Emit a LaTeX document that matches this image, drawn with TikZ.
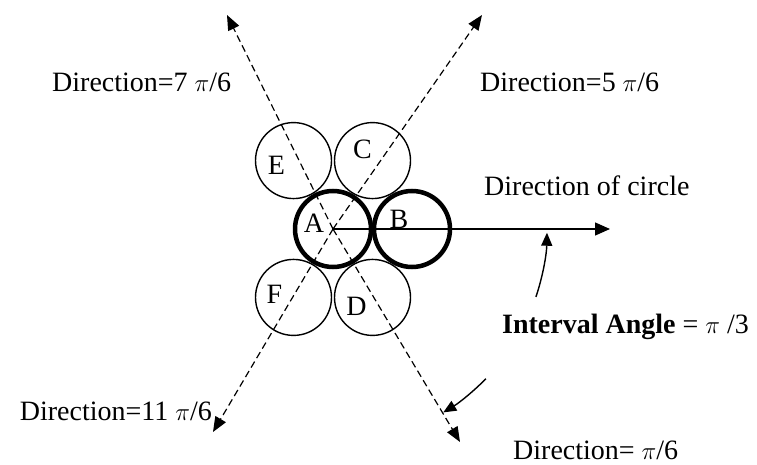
\documentclass[tikz,border=0pt]{standalone}
\usepackage{fontspec}
\setmainfont{Liberation Serif}
\usetikzlibrary{arrows.meta,calc}

\begin{document}
\begin{tikzpicture}[
  x=1pt, y=1pt,
  every node/.style={font=\fontsize{28}{30}\selectfont, inner sep=0pt},
  ball/.style={draw, circle, minimum size=76pt, line width=1.4pt},
  heavy/.style={ball, line width=4.5pt},
  txt/.style={anchor=base west},
  dirline/.style={dash pattern=on 7pt off 4pt, line width=1.2pt, -{Triangle[length=15pt, width=12pt]}},
  mainarrow/.style={line width=1.4pt, -{Triangle[length=15pt, width=13pt]}},
  arcarrow/.style={line width=1.4pt, -{Triangle[length=13pt, width=11pt]}}
]
\useasboundingbox (0,0) rectangle (757,464);

\node[heavy] (A) at (333,235) {};
\node[heavy] (B) at ($(A)+(0:79)$) {};
\node[ball] (C) at ($(A)+(60:79)$) {};
\node[ball] (E) at ($(A)+(120:79)$) {};
\node[ball] (F) at ($(A)+(240:79)$) {};
\node[ball] (D) at ($(A)+(300:79)$) {};

\node (labA) at ($(A)+(-19,6)$) {A};
\node (labB) at ($(B)+(-13,10)$) {B};
\node (labC) at ($(C)+(-10,11)$) {C};
\node (labE) at ($(E)+(-17,-5)$) {E};
\node (labF) at ($(F)+(-19,3)$) {F};
\node (labD) at ($(D)+(-16,-9)$) {D};

\coordinate (tl) at (227,449);
\coordinate (tr) at (482,449);
\coordinate (bl) at (213,32);
\coordinate (br) at (460,22);
\coordinate (hd) at (610,235);

\draw[dirline] (A.center) -- (tl);
\draw[dirline] (A.center) -- (tr);
\draw[dirline] (A.center) -- (bl);
\draw[dirline] (A.center) -- (br);
\draw[mainarrow] (A.center) -- (hd);

\node[txt] (d7) at (52,372) {Direction=7 $\pi$/6};
\node[txt] (d5) at (480,372) {Direction=5 $\pi$/6};
\node[txt] (dc) at (484,268) {Direction of circle};
\node[anchor=base east] (d11) at (212,44) {Direction=11 $\pi$/6};
\node[txt] (d1) at (513,5) {Direction= $\pi$/6};
\node[txt] (ia) at (502,131) {\textbf{Interval Angle} = $\pi$ /3};

\draw[arcarrow] ($(A)+(-18.5:214)$) arc[start angle=-18.5, end angle=-1, radius=214pt];
\draw[arcarrow] ($(A)+(-44.4:214)$) arc[start angle=-44.4, end angle=-59, radius=214pt];
\end{tikzpicture}
\end{document}
